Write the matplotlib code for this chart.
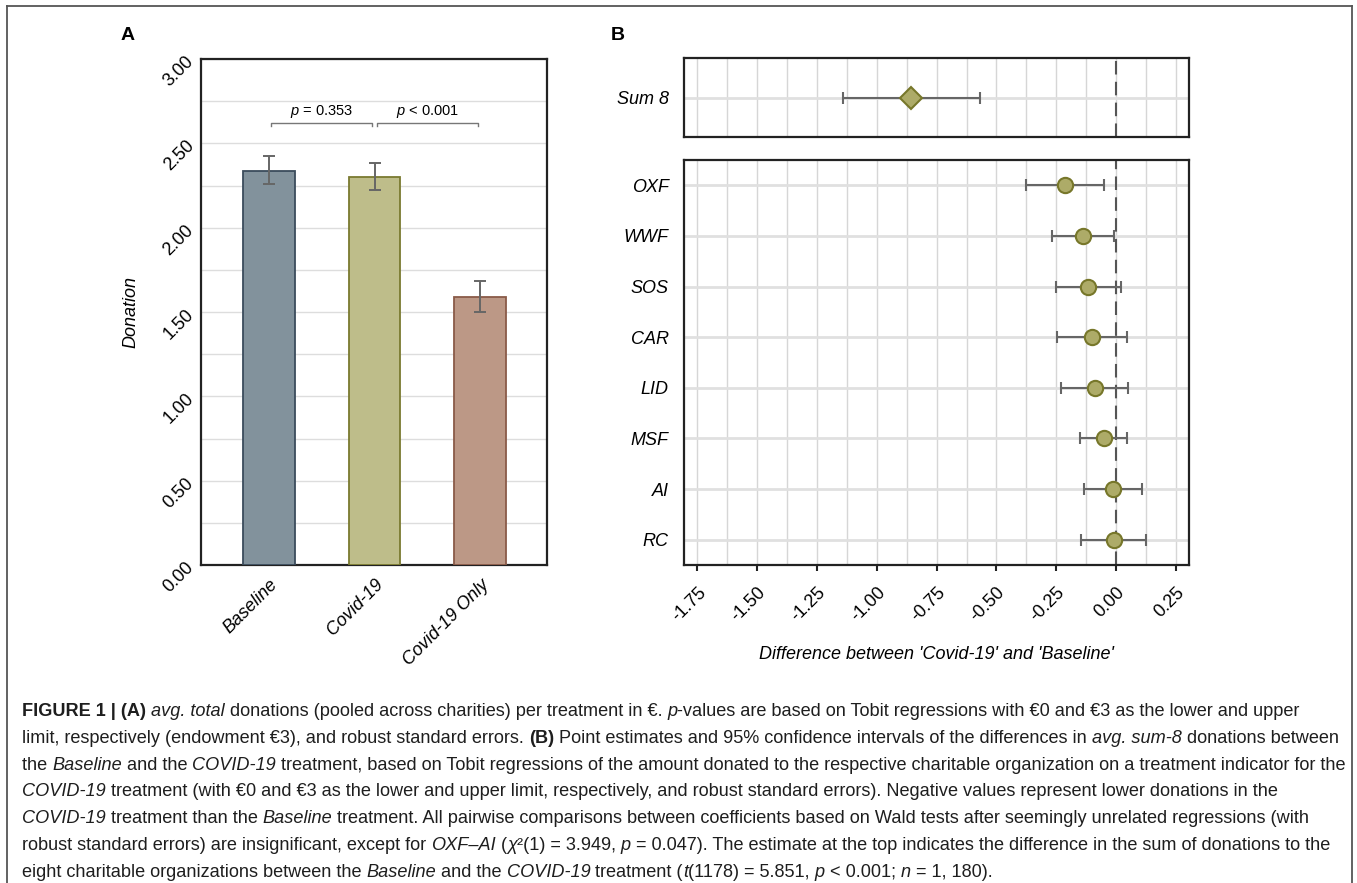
"""Figure 1: donations per treatment (A) and Covid-19 vs Baseline differences (B)."""
import matplotlib
matplotlib.use("Agg")
import matplotlib.pyplot as plt
import numpy as np
from matplotlib.font_manager import FontProperties
from matplotlib.lines import Line2D

plt.rcParams["font.family"] = ["Liberation Sans", "DejaVu Sans"]
plt.rcParams["mathtext.fontset"] = "custom"
plt.rcParams["mathtext.rm"] = "Liberation Sans"
plt.rcParams["mathtext.it"] = "Liberation Sans:italic"

W, H = 1357, 883

# ── Panel A data ──────────────────────────────────────────────
treatments = ["Baseline", "Covid-19", "Covid-19 Only"]
donation = [2.337, 2.301, 1.587]
ci_low = [2.258, 2.222, 1.501]
ci_high = [2.426, 2.385, 1.686]
bar_colors = ["#82929c", "#bebd8a", "#bc9886"]
bar_edges = ["#3b4c5c", "#7a7a30", "#8a5a48"]
p_labels = ["$p$ = 0.353", "$p$ < 0.001"]

# ── Panel B data ──────────────────────────────────────────────
sum_label = ["Sum 8"]
sum_est = [-0.856]
sum_low = [-1.141]
sum_high = [-0.568]

charities = ["OXF", "WWF", "SOS", "CAR", "LID", "MSF", "AI", "RC"]
diff_est = [-0.213, -0.139, -0.117, -0.100, -0.089, -0.050, -0.013, -0.010]
diff_low = [-0.376, -0.269, -0.251, -0.247, -0.230, -0.150, -0.134, -0.148]
diff_high = [-0.049, -0.010, 0.020, 0.045, 0.052, 0.047, 0.110, 0.124]

x_ticks_b = [-1.75, -1.50, -1.25, -1.00, -0.75, -0.50, -0.25, 0.00, 0.25]


def px_axes(fig, left, top, right, bottom):
    return fig.add_axes([left / W, 1 - bottom / H, (right - left) / W, (bottom - top) / H])


fig = plt.figure(figsize=(W / 100, H / 100), dpi=100)

# outer frame (open at the bottom)
frame = dict(color="#555555", lw=1.3, transform=fig.transFigure)
fig.add_artist(Line2D([7 / W, 7 / W], [0, 1 - 6 / H], **frame))
fig.add_artist(Line2D([7 / W, 1352 / W], [1 - 6 / H, 1 - 6 / H], **frame))
fig.add_artist(Line2D([1352 / W, 1352 / W], [0, 1 - 6 / H], **frame))

# ── Panel A ───────────────────────────────────────────────────
axA = px_axes(fig, 201, 59, 547, 565)
xpos = np.arange(len(treatments))
axA.bar(xpos, donation, width=0.49, color=bar_colors, edgecolor=bar_edges,
        linewidth=1.3, zorder=3)
yerr = [np.array(donation) - np.array(ci_low), np.array(ci_high) - np.array(donation)]
axA.errorbar(xpos, donation, yerr=yerr, fmt="none", ecolor="#666666",
             elinewidth=1.4, capsize=4, capthick=1.4, zorder=4)
axA.set_xlim(-0.64, 2.63)
axA.set_ylim(0, 3)
axA.set_yticks(np.arange(0, 3.01, 0.5))
axA.set_yticks(np.arange(0.25, 3, 0.5), minor=True)
axA.set_yticklabels([f"{v:.2f}" for v in np.arange(0, 3.01, 0.5)],
                    rotation=45, fontsize=13, rotation_mode="anchor", ha="right", va="center")
axA.set_xticks(xpos)
axA.set_xticklabels(treatments, rotation=45, fontsize=13, style="italic",
                    rotation_mode="anchor", ha="right", va="top")
axA.tick_params(axis="both", which="both", length=0)
axA.tick_params(axis="y", pad=7)
axA.tick_params(axis="x", pad=8)
axA.grid(axis="y", which="both", color="#dddddd", lw=1, zorder=0)
axA.set_axisbelow(True)
for sp in axA.spines.values():
    sp.set_linewidth(1.6)
    sp.set_color("#222222")
axA.set_ylabel("Donation", fontsize=13, style="italic", labelpad=15)

# significance brackets
for i, lab in enumerate(p_labels):
    x0, x1 = i + 0.02, i + 0.98
    axA.plot([x0, x0, x1, x1], [2.60, 2.623, 2.623, 2.60], color="#777777", lw=1)
    axA.text((x0 + x1) / 2, 2.69, lab, ha="center", va="center", fontsize=10.5)

fig.text(128 / W, 1 - 35 / H, "A", fontsize=14, fontweight="bold", ha="center", va="center")
fig.text(618 / W, 1 - 35 / H, "B", fontsize=14, fontweight="bold", ha="center", va="center")

# ── Panel B ───────────────────────────────────────────────────
axT = px_axes(fig, 684, 58, 1189, 137)
axB = px_axes(fig, 684, 160, 1189, 565)
grid_x = np.arange(-1.75, 0.26, 0.125)
ypos = np.arange(len(charities), 0, -1)

for ax in (axT, axB):
    ax.set_xlim(-1.806, 0.305)
    for gx in grid_x:
        ax.axvline(gx, color="#d6d6d6", lw=1, zorder=0)
    ax.axvline(0, color="#555555", lw=1.5, ls=(0, (6.5, 3.5)), zorder=2)
    for sp in ax.spines.values():
        sp.set_linewidth(1.6)
        sp.set_color("#222222")
    ax.tick_params(axis="y", length=0, labelsize=13, pad=11)

axT.set_ylim(-0.78, 0.78)
axT.axhline(0, color="#e0e0e0", lw=2, zorder=1)
axT.errorbar(sum_est, [0], xerr=[np.array(sum_est) - np.array(sum_low),
                                np.array(sum_high) - np.array(sum_est)],
             fmt="D", ms=11.5, mfc="#adab68", mec="#77772a", mew=1.5,
             ecolor="#666666", elinewidth=1.5, capsize=4, capthick=1.5, zorder=4)
axT.set_yticks([0])
axT.set_yticklabels(sum_label, style="italic", fontsize=13)
axT.set_xticks(x_ticks_b)
axT.tick_params(axis="x", length=0, labelbottom=False)

axB.set_ylim(0.5, len(charities) + 0.5)
for y in ypos:
    axB.axhline(y, color="#e0e0e0", lw=2, zorder=1)
axB.errorbar(diff_est, ypos, xerr=[np.array(diff_est) - np.array(diff_low),
                                  np.array(diff_high) - np.array(diff_est)],
             fmt="o", ms=11, mfc="#adab68", mec="#77772a", mew=1.5,
             ecolor="#666666", elinewidth=1.5, capsize=4, capthick=1.5, zorder=4)
axB.set_yticks(ypos)
axB.set_yticklabels(charities, style="italic", fontsize=13)
axB.set_xticks(x_ticks_b)
axB.set_xticklabels([f"{v:.2f}" for v in x_ticks_b], rotation=45, fontsize=13,
                    rotation_mode="anchor", ha="right", va="top")
axB.tick_params(axis="x", length=4.5, width=1.5, color="#222222", pad=9)
axB.set_xlabel("Difference between 'Covid-19' and 'Baseline'", fontsize=13,
               style="italic", labelpad=15)

# ── Caption ───────────────────────────────────────────────────
caption = [
    [("FIGURE 1 | (A) ", "b"), ("avg. total", "i"),
     (" donations (pooled across charities) per treatment in €. ", "n"), ("p", "i"),
     ("-values are based on Tobit regressions with €0 and €3 as the lower and upper", "n")],
    [("limit, respectively (endowment €3), and robust standard errors. ", "n"), ("(B)", "b"),
     (" Point estimates and 95% confidence intervals of the differences in ", "n"),
     ("avg. sum-8", "i"), (" donations between", "n")],
    [("the ", "n"), ("Baseline", "i"), (" and the ", "n"), ("COVID-19", "i"),
     (" treatment, based on Tobit regressions of the amount donated to the respective "
      "charitable organization on a treatment indicator for the", "n")],
    [("COVID-19", "i"),
     (" treatment (with €0 and €3 as the lower and upper limit, respectively, and robust "
      "standard errors). Negative values represent lower donations in the", "n")],
    [("COVID-19", "i"), (" treatment than the ", "n"), ("Baseline", "i"),
     (" treatment. All pairwise comparisons between coefficients based on Wald tests after "
      "seemingly unrelated regressions (with", "n")],
    [("robust standard errors) are insignificant, except for ", "n"), ("OXF–AI", "i"),
     (" (", "n"), ("χ", "i"), ("²(1) = 3.949, ", "n"), ("p", "i"),
     (" = 0.047). The estimate at the top indicates the difference in the sum of "
      "donations to the", "n")],
    [("eight charitable organizations between the ", "n"), ("Baseline", "i"),
     (" and the ", "n"), ("COVID-19", "i"), (" treatment (", "n"), ("t", "i"),
     ("(1178) = 5.851, ", "n"), ("p", "i"), (" < 0.001; ", "n"), ("n", "i"),
     (" = 1, 180).", "n")],
]

renderer = fig.canvas.get_renderer()
cap_size = 13.05


def text_width(s, prop):
    w_full, _, _ = renderer.get_text_width_height_descent("|" + s + "|", prop, ismath=False)
    w_bars, _, _ = renderer.get_text_width_height_descent("||", prop, ismath=False)
    return w_full - w_bars


for k, parts in enumerate(caption):
    x = 22.0
    y = 716 + k * 26.8
    for s, style in parts:
        prop = FontProperties(family=["Liberation Sans", "DejaVu Sans"], size=cap_size,
                              weight="bold" if style == "b" else "normal",
                              style="italic" if style == "i" else "normal")
        fig.text(x / W, 1 - y / H, s, fontproperties=prop, va="baseline", ha="left",
                 color="#1e1e1e")
        x += text_width(s, prop)

fig.savefig("out.png", dpi=100)
